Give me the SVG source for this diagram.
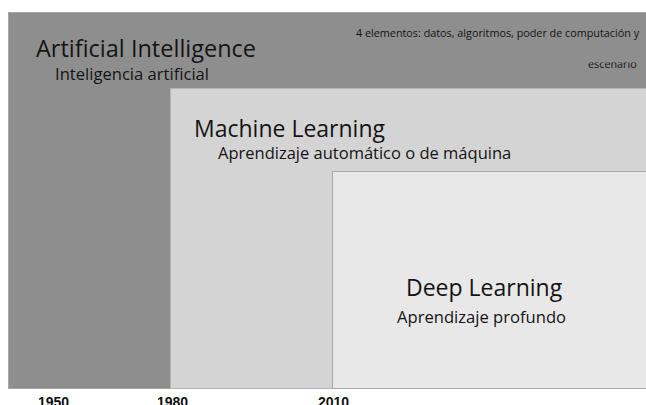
<svg xmlns="http://www.w3.org/2000/svg" width="646" height="405" viewBox="0 0 646 405">
  <defs>
    <style>
      .t { font-family: "Open Sans", "Noto Sans", "DejaVu Sans", sans-serif; fill: #141414; }
      .year { font-family: "Liberation Sans", Arial, sans-serif; font-weight: bold; font-size: 14px; fill: #111; }
    </style>
    <clipPath id="clipNote">
      <rect x="540" y="62.5" width="106" height="25"/>
    </clipPath>
  </defs>
  <rect x="0" y="0" width="646" height="405" fill="#ffffff"/>

  <!-- outermost field: AI -->
  <g id="ai">
    <rect x="8.5" y="12.5" width="650" height="376" fill="#8e8e8e" stroke="#a6a6a6" stroke-width="1"/>
    <text class="t" x="36" y="57" font-size="23.5">Artificial Intelligence</text>
    <text class="t" x="55" y="80" font-size="16.6">Inteligencia artificial</text>
    <text class="t" x="356" y="37" font-size="10.8">4 elementos: datos, algoritmos, poder de computación y</text>
    <text class="t" x="588" y="67.5" font-size="10.8" clip-path="url(#clipNote)">escenario</text>
  </g>

  <!-- middle field: ML -->
  <g id="ml">
    <rect x="170.5" y="88.5" width="490" height="300" fill="#d4d4d4" stroke="#b4b4b4" stroke-width="1"/>
    <text class="t" x="194" y="137" font-size="23">Machine Learning</text>
    <text class="t" x="218" y="158.5" font-size="16.5">Aprendizaje automático o de máquina</text>
  </g>

  <!-- innermost field: DL -->
  <g id="dl">
    <rect x="332.5" y="171.5" width="330" height="217" fill="#e8e8e8" stroke="#a8a8a8" stroke-width="1"/>
    <text class="t" x="406" y="296" font-size="23">Deep Learning</text>
    <text class="t" x="397" y="323" font-size="16.6">Aprendizaje profundo</text>
  </g>

  <!-- timeline labels -->
  <g id="years">
    <text class="year" x="38" y="407">1950</text>
    <text class="year" x="157" y="407">1980</text>
    <text class="year" x="318" y="407">2010</text>
  </g>
  <g id="connectors"/>
</svg>
